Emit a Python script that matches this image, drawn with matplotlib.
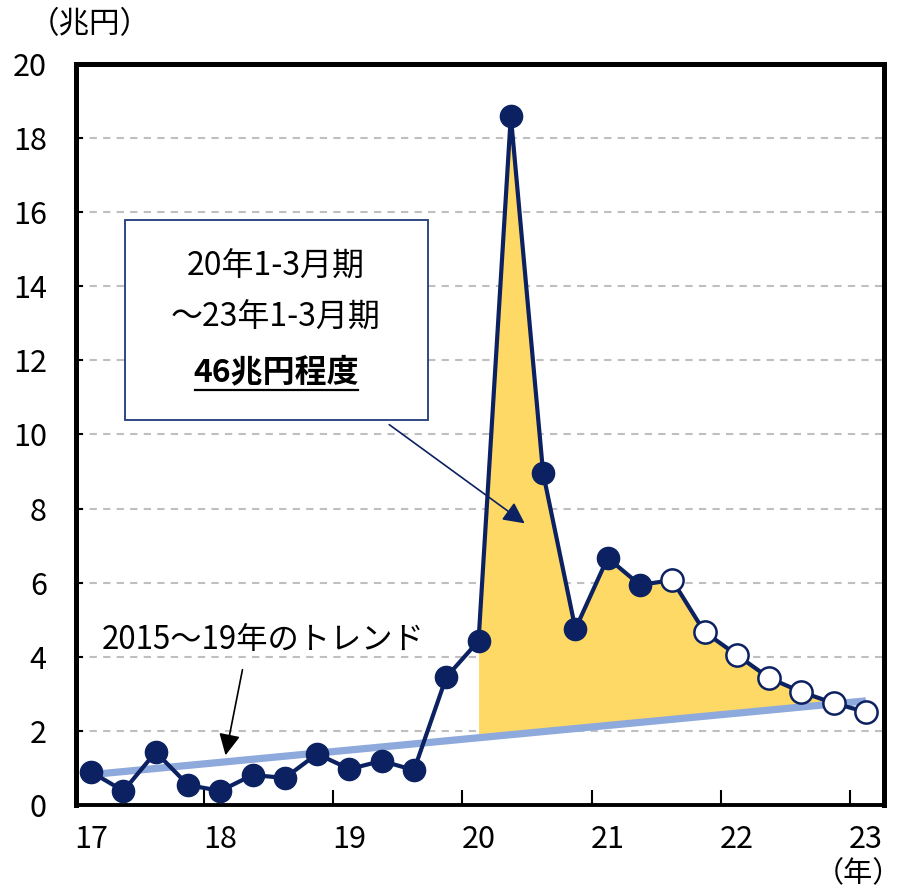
import matplotlib
matplotlib.use("Agg")
import matplotlib.pyplot as plt
import numpy as np
from matplotlib.patches import Rectangle

plt.rcParams['font.family'] = ['Noto Sans CJK JP', 'DejaVu Sans']

# Quarterly data 2017Q1 .. 2023Q1 (trillion yen)
quarters = ["17Q1", "17Q2", "17Q3", "17Q4", "18Q1", "18Q2", "18Q3", "18Q4",
            "19Q1", "19Q2", "19Q3", "19Q4", "20Q1", "20Q2", "20Q3", "20Q4",
            "21Q1", "21Q2", "21Q3", "21Q4", "22Q1", "22Q2", "22Q3", "22Q4", "23Q1"]
values = [0.89, 0.38, 1.43, 0.54, 0.38, 0.81, 0.73, 1.38,
          0.97, 1.19, 0.94, 3.45, 4.43, 18.6, 8.96, 4.75,
          6.67, 5.94, 6.07, 4.67, 4.05, 3.43, 3.05, 2.75, 2.51]
n_actual = 18          # filled markers up to 21Q2, forecasts afterwards
trend_ends = [0.82, 2.81]   # 2015-19 trend line, value at 17Q1 and 23Q1
fill_start = 12        # 20Q1

xtick_labels = ["17", "18", "19", "20", "21", "22", "23"]
yticks = [0, 2, 4, 6, 8, 10, 12, 14, 16, 18, 20]

navy = "#0B2161"
trend_c = "#8EA9DB"
gold = "#FFD966"

fig = plt.figure(figsize=(9.03, 8.91), dpi=100)
ax = fig.add_axes([76/903, 1-805/891, (884-76)/903, (805-64)/891])

x = np.arange(len(values))
vals = np.array(values)
trend_x = [x[0], x[-1]]
trend_at = np.interp(x, trend_x, trend_ends)

# fill between series and trend from 20Q1 on
xs = x[fill_start:]
ax.fill_between(xs, trend_at[fill_start:], vals[fill_start:],
                where=vals[fill_start:] >= trend_at[fill_start:],
                interpolate=True, color=gold, lw=0, zorder=2)

# trend line
ax.plot(trend_x, trend_ends, color=trend_c, lw=5.2, solid_capstyle='butt', zorder=3)

# series line
ax.plot(x, vals, color=navy, lw=3, zorder=4)
ax.plot(x[:n_actual], vals[:n_actual], 'o', ms=16, color=navy, mec=navy, zorder=5)
ax.plot(x[n_actual:], vals[n_actual:], 'o', ms=16, mfc='white', mec=navy, mew=1.8, zorder=5)

ax.set_xlim(-0.47, 24.56)
ax.set_ylim(0, 20)
ax.set_yticks(yticks)
ax.set_yticklabels([str(v) for v in yticks], fontsize=22)
ax.yaxis.grid(True, color='#BFBFBF', lw=1.5, ls=(0, (3.5, 3)))
ax.set_axisbelow(True)

# x labels at Q1 positions, tick marks at year boundaries
ax.set_xticks(np.arange(3.5, 24, 4))
ax.set_xticklabels([])
ax.set_xticks(np.arange(0, 25, 4), minor=True)
ax.set_xticklabels(xtick_labels, minor=True, fontsize=22)
ax.tick_params(axis='x', which='major', direction='in', length=11, width=1.5)
ax.tick_params(axis='x', which='minor', length=0, pad=14)
ax.tick_params(axis='y', direction='in', length=5, width=1.5, pad=21)

for s in ['left', 'right', 'top']:
    ax.spines[s].set_linewidth(3.6)
ax.spines['bottom'].set_linewidth(2.8)
for s in ax.spines.values():
    s.set_color('black')

# axis unit labels
fig.text(90/903, 1-25/891, "（兆円）", fontsize=22, ha='center', va='center')
fig.text(902/903, 1-874/891, "（年）", fontsize=21, ha='right', va='center')

def px(xp, yp):
    # figure pixel (from top-left) -> figure fraction
    return (xp/903, 1-yp/891)

box = Rectangle(px(125, 420), (428-125)/903, (420-220)/891, transform=fig.transFigure,
                facecolor='white', edgecolor='#1F3A7A', lw=1.3, zorder=6)
fig.patches.append(box)
fig.text(276/903, 1-267/891, "20年1-3月期", fontsize=23, ha='center', va='center', zorder=7)
fig.text(276/903, 1-318/891, "～23年1-3月期", fontsize=23, ha='center', va='center', zorder=7)
fig.text(276/903, 1-372/891, "46兆円程度", fontsize=23, fontweight='bold', ha='center', va='center', zorder=7)
fig.add_artist(plt.Line2D([195/903, 358/903], [1-390/891, 1-390/891], color='black', lw=1.6,
                          transform=fig.transFigure, zorder=7))

ax.annotate("", xy=px(527, 525), xycoords='figure fraction',
            xytext=px(387, 423), textcoords='figure fraction',
            arrowprops=dict(arrowstyle='-|>,head_length=1.3,head_width=0.65', color=navy, lw=1.2),
            zorder=8)

# trend annotation
fig.text(263/903, 1-640/891, "2015～19年のトレンド", fontsize=22.5, ha='center', va='center')
ax.annotate("", xy=px(225, 758), xycoords='figure fraction',
            xytext=px(243, 667), textcoords='figure fraction',
            arrowprops=dict(arrowstyle='-|>,head_length=1.3,head_width=0.65', color='black', lw=1.2),
            zorder=8)

fig.savefig("out.png", dpi=100)
